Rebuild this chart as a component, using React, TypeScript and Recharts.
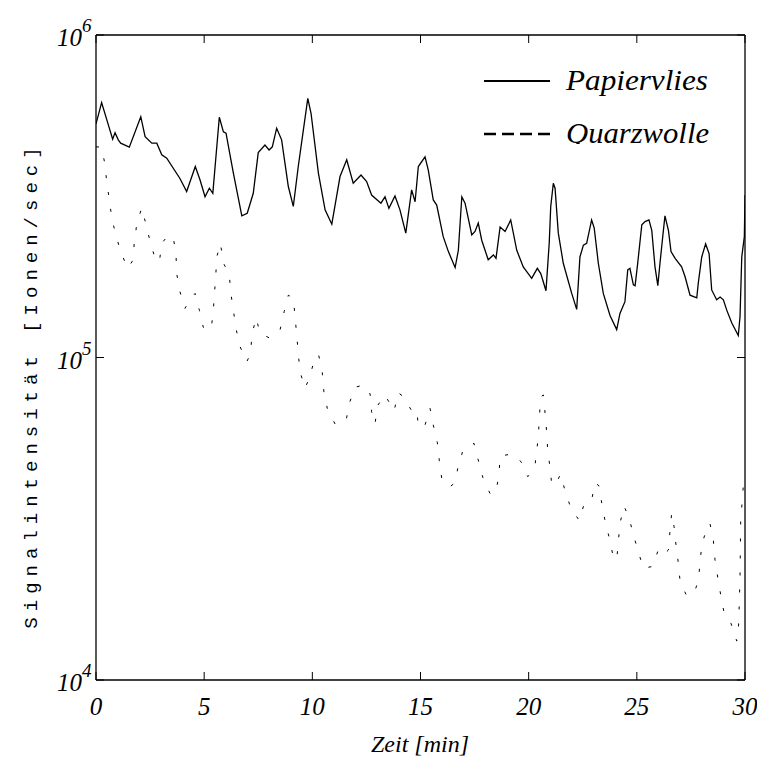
import { LineChart, Line, XAxis, YAxis } from 'recharts'

// Papiervlies (solid)
const papierT = [
  0, 0.26, 0.77, 0.88, 1.03, 1.14, 1.54, 2.07, 2.27, 2.58, 2.81, 3.04, 3.27, 3.88, 4.19, 4.59, 4.81, 5.04, 5.24, 5.4,
  5.7, 5.89, 6.01, 6.35, 6.74, 6.99, 7.27, 7.5, 7.81, 8.0, 8.15, 8.35, 8.58, 8.89, 9.12, 9.35, 9.79, 9.94, 10.28, 10.59,
  10.9, 11.28, 11.59, 11.89, 12.25, 12.51, 12.74, 13.17, 13.36, 13.54, 13.82, 14.05, 14.32, 14.59, 14.75, 14.9, 15.21,
  15.36, 15.59, 15.75, 16.05, 16.29, 16.6, 16.75, 16.91, 17.06, 17.37, 17.52, 17.67, 17.83, 18.13, 18.37, 18.49, 18.68,
  18.91, 19.17, 19.45, 19.75, 20.14, 20.4, 20.56, 20.8, 20.95, 21.02, 21.14, 21.22, 21.37, 21.6, 21.99, 22.22, 22.37,
  22.53, 22.68, 22.91, 23.03, 23.22, 23.45, 23.76, 24.07, 24.22, 24.45, 24.58, 24.68, 24.84, 24.92, 25.04, 25.23, 25.38,
  25.56, 25.69, 25.84, 25.97, 26.07, 26.18, 26.3, 26.46, 26.58, 26.77, 27.07, 27.23, 27.46, 27.77, 27.84, 28.0, 28.18,
  28.34, 28.46, 28.69, 28.85, 29.0, 29.16, 29.39, 29.69, 29.77, 29.85, 29.97, 30,
]
const papierV = [
  5.3e5, 6.17e5, 4.75e5, 4.98e5, 4.73e5, 4.62e5, 4.49e5, 5.58e5, 4.84e5, 4.62e5, 4.62e5, 4.25e5, 4.15e5, 3.59e5, 3.27e5,
  3.91e5, 3.55e5, 3.15e5, 3.35e5, 3.23e5, 5.56e5, 5.01e5, 4.96e5, 3.73e5, 2.75e5, 2.8e5, 3.23e5, 4.32e5, 4.56e5, 4.4e5,
  4.5e5, 5.14e5, 4.73e5, 3.39e5, 2.94e5, 3.91e5, 6.36e5, 5.72e5, 3.73e5, 2.87e5, 2.59e5, 3.64e5, 4.1e5, 3.47e5, 3.68e5,
  3.51e5, 3.19e5, 3.01e5, 3.15e5, 2.9e5, 3.17e5, 2.87e5, 2.43e5, 3.31e5, 3.04e5, 3.91e5, 4.19e5, 3.81e5, 3.08e5, 2.97e5,
  2.37e5, 2.13e5, 1.9e5, 2.15e5, 3.15e5, 3.01e5, 2.4e5, 2.46e5, 2.61e5, 2.31e5, 2.01e5, 2.08e5, 2.03e5, 2.54e5, 2.46e5,
  2.67e5, 2.15e5, 1.91e5, 1.76e5, 1.89e5, 1.82e5, 1.61e5, 2.26e5, 2.94e5, 3.47e5, 3.35e5, 2.43e5, 1.96e5, 1.58e5, 1.41e5,
  2.05e5, 2.23e5, 2.26e5, 2.67e5, 2.52e5, 1.96e5, 1.58e5, 1.35e5, 1.22e5, 1.37e5, 1.49e5, 1.87e5, 1.89e5, 1.68e5, 1.67e5,
  1.96e5, 2.58e5, 2.64e5, 2.67e5, 2.48e5, 1.91e5, 1.67e5, 1.96e5, 2.31e5, 2.75e5, 2.48e5, 2.13e5, 2.03e5, 1.91e5, 1.78e5,
  1.56e5, 1.53e5, 1.7e5, 2.05e5, 2.25e5, 2.1e5, 1.62e5, 1.51e5, 1.54e5, 1.51e5, 1.4e5, 1.28e5, 1.17e5, 1.34e5, 2.05e5,
  2.37e5, 3.19e5,
]

// Quarzwolle (dotted)
const quarzT = [
  0, 0.26, 0.42, 0.5, 0.62, 0.73, 0.93, 1.16, 1.47, 1.7, 1.77, 1.88, 2.11, 2.31, 2.5, 2.73, 2.93, 3.04, 3.31, 3.57, 3.7,
  3.73, 3.88, 4.11, 4.35, 4.58, 4.78, 4.96, 5.32, 5.42, 5.48, 5.54, 5.58, 5.76, 5.86, 6.16, 6.23, 6.35, 6.47, 6.66, 6.97,
  7.15, 7.2, 7.4, 7.58, 8.01, 8.51, 8.7, 8.89, 9.12, 9.2, 9.28, 9.35, 9.43, 9.66, 9.89, 10.09, 10.29, 10.46, 10.53, 10.69,
  11.05, 11.56, 11.71, 11.97, 12.36, 12.67, 12.74, 12.9, 13.0, 13.36, 13.78, 13.97, 14.21, 14.59, 14.83, 14.9, 15.21,
  15.44, 15.59, 15.78, 15.87, 15.98, 16.33, 16.6, 16.75, 16.98, 17.47, 17.67, 17.88, 18.21, 18.48, 18.63, 18.68, 19.22,
  19.65, 19.96, 20.29, 20.34, 20.45, 20.49, 20.56, 20.68, 20.76, 20.83, 20.88, 20.99, 21.07, 21.26, 21.48, 21.68, 21.94,
  22.34, 22.56, 22.91, 23.07, 23.25, 23.38, 23.53, 23.73, 23.91, 24.07, 24.22, 24.41, 24.65, 24.84, 25.07, 25.3, 25.73,
  25.99, 26.22, 26.46, 26.53, 26.61, 26.72, 26.81, 26.92, 27.0, 27.31, 27.69, 27.84, 27.92, 28.0, 28.23, 28.38, 28.54,
  28.61, 28.74, 28.88, 29.03, 29.35, 29.62, 29.69, 29.72, 29.77, 29.8, 29.92, 30,
]
const quarzV = [
  4.5e5, 4.49e5, 3.95e5, 3.47e5, 3.08e5, 2.7e5, 2.38e5, 2.11e5, 1.89e5, 2.0e5, 2.27e5, 2.58e5, 2.91e5, 2.59e5, 2.29e5,
  2.03e5, 1.98e5, 2.26e5, 2.38e5, 2.37e5, 2.07e5, 1.82e5, 1.6e5, 1.42e5, 1.51e5, 1.58e5, 1.4e5, 1.24e5, 1.22e5, 1.39e5,
  1.59e5, 1.81e5, 2.05e5, 2.26e5, 1.98e5, 1.81e5, 1.59e5, 1.4e5, 1.23e5, 1.08e5, 9.7e4, 1.03e5, 1.17e5, 1.33e5, 1.19e5,
  1.15e5, 1.22e5, 1.39e5, 1.56e5, 1.53e5, 1.34e5, 1.17e5, 1.03e5, 9.04e4, 8.03e4, 8.72e4, 9.87e4, 1.02e5, 8.97e4, 7.87e4,
  6.96e4, 6.22e4, 6.37e4, 7.21e4, 8.08e4, 8.22e4, 7.71e4, 6.79e4, 6.22e4, 7.07e4, 7.65e4, 6.83e4, 7.78e4, 7.56e4, 6.84e4,
  6.88e4, 6.08e4, 6.18e4, 6.96e4, 6.18e4, 5.44e4, 4.78e4, 4.22e4, 3.96e4, 4.09e4, 4.64e4, 5.19e4, 5.42e4, 4.81e4, 4.25e4,
  3.79e4, 3.8e4, 4.35e4, 4.95e4, 5.02e4, 4.75e4, 4.27e4, 4.59e4, 4.96e4, 5.68e4, 6.48e4, 7.56e4, 7.65e4, 6.71e4, 5.89e4,
  5.17e4, 4.53e4, 4.02e4, 4.07e4, 4.35e4, 3.86e4, 3.43e4, 3.12e4, 3.51e4, 3.61e4, 4.09e4, 4.0e4, 3.53e4, 3.12e4, 2.75e4,
  2.41e4, 2.36e4, 3.06e4, 3.46e4, 3.17e4, 2.82e4, 2.5e4, 2.22e4, 2.25e4, 2.53e4, 2.44e4, 2.53e4, 2.88e4, 3.29e4, 2.99e4,
  2.62e4, 2.3e4, 2.02e4, 1.82e4, 1.9e4, 2.02e4, 2.3e4, 2.62e4, 2.95e4, 3.06e4, 2.7e4, 2.37e4, 2.08e4, 1.83e4, 1.62e4,
  1.5e4, 1.32e4, 1.4e4, 1.59e4, 2.09e4, 3.1e4, 3.98e4, 4.1e4,
]

const xTicks = [0, 5, 10, 15, 20, 25, 30]
const yTicks = [1e4, 1e5, 1e6]
const seriesNames = ['Papiervlies', 'Quarzwolle']

const papierData = papierT.map((t, i) => ({ t, v: papierV[i] }))
const quarzData = quarzT.map((t, i) => ({ t, v: quarzV[i] }))

const serif = '"Liberation Serif", "Times New Roman", serif'
const mono = '"Liberation Mono", "Courier New", monospace'

const BottomTick = ({ x, y, payload }: any) => (
  <g>
    <line x1={x} x2={x} y1={y} y2={y - 8} stroke="#000" />
    <text x={x} y={y + 35} textAnchor="middle" fontFamily={serif} fontStyle="italic" fontSize={25} fill="#000">
      {payload.value}
    </text>
  </g>
)

const TopTick = ({ x, y }: any) => <line x1={x} x2={x} y1={y} y2={y + 8} stroke="#000" />

const LeftTick = ({ x, y, payload }: any) => (
  <g>
    <line x1={x} x2={x + 8} y1={y} y2={y} stroke="#000" />
    <text x={x - 39} y={y + 11} fontFamily={serif} fontStyle="italic" fontSize={25} fill="#000">
      10
      <tspan dy={-14} fontSize={19}>
        {Math.round(Math.log10(payload.value))}
      </tspan>
    </text>
  </g>
)

const RightTick = ({ x, y }: any) => <line x1={x} x2={x - 8} y1={y} y2={y} stroke="#000" />

const axisLine = { stroke: '#000', strokeWidth: 1.3 }

export default function App() {
  return (
    <div style={{ position: 'absolute', left: 0, top: 0, width: 757, height: 761, background: '#fff' }}>
      <LineChart width={757} height={761} margin={{ top: 34, right: 11, bottom: 80, left: 95 }}>
        <XAxis
          xAxisId="bottom"
          dataKey="t"
          type="number"
          domain={[0, 30]}
          ticks={xTicks}
          height={1}
          tickSize={0}
          tickMargin={0}
          tickLine={false}
          axisLine={axisLine}
          tick={<BottomTick />}
          interval={0}
          allowDataOverflow
        />
        <XAxis
          xAxisId="top"
          orientation="top"
          dataKey="t"
          type="number"
          domain={[0, 30]}
          ticks={xTicks}
          height={1}
          tickSize={0}
          tickMargin={0}
          tickLine={false}
          axisLine={axisLine}
          tick={<TopTick />}
          interval={0}
          allowDataOverflow
        />
        <YAxis
          yAxisId="left"
          type="number"
          scale="log"
          domain={[1e4, 1e6]}
          ticks={yTicks}
          width={1}
          tickSize={0}
          tickMargin={0}
          tickLine={false}
          axisLine={axisLine}
          tick={<LeftTick />}
          interval={0}
          allowDataOverflow
        />
        <YAxis
          yAxisId="right"
          orientation="right"
          type="number"
          scale="log"
          domain={[1e4, 1e6]}
          ticks={yTicks}
          width={1}
          tickSize={0}
          tickMargin={0}
          tickLine={false}
          axisLine={axisLine}
          tick={<RightTick />}
          interval={0}
          allowDataOverflow
        />
        <Line
          xAxisId="bottom"
          yAxisId="left"
          data={papierData}
          dataKey="v"
          name={seriesNames[0]}
          type="linear"
          stroke="#000"
          strokeWidth={1.3}
          dot={false}
          isAnimationActive={false}
        />
        <Line
          xAxisId="bottom"
          yAxisId="left"
          data={quarzData}
          dataKey="v"
          name={seriesNames[1]}
          type="linear"
          stroke="#000"
          strokeWidth={1}
          strokeDasharray="3 14"
          dot={false}
          isAnimationActive={false}
        />
      </LineChart>

      {/* axis titles and legend */}
      <svg width={757} height={761} style={{ position: 'absolute', left: 0, top: 0, pointerEvents: 'none' }}>
        <text x={420} y={752} textAnchor="middle" fontFamily={serif} fontStyle="italic" fontSize={24} fill="#000">
          Zeit [min]
        </text>
        <text
          x={37}
          y={385}
          transform="rotate(-90 37 385)"
          textAnchor="middle"
          fontFamily={mono}
          fontSize={19}
          letterSpacing={6}
          fill="#000"
        >
          Signalintensität [Ionen/sec]
        </text>
        <defs>
          <clipPath id="legendClip">
            <rect x={470} y={50} width={270} height={94} />
          </clipPath>
        </defs>
        <g clipPath="url(#legendClip)">
          <line x1={484} x2={550} y1={81} y2={81} stroke="#000" strokeWidth={2} />
          <text
            x={566}
            y={90}
            fontFamily={serif}
            fontStyle="italic"
            fontSize={29}
            textLength={142}
            lengthAdjust="spacingAndGlyphs"
            fill="#000"
          >
            {seriesNames[0]}
          </text>
          <line x1={484} x2={550} y1={134} y2={134} stroke="#000" strokeWidth={2.5} strokeDasharray="12 6" />
          <text
            x={566}
            y={143}
            fontFamily={serif}
            fontStyle="italic"
            fontSize={29}
            textLength={143}
            lengthAdjust="spacingAndGlyphs"
            fill="#000"
          >
            {seriesNames[1]}
          </text>
        </g>
      </svg>
    </div>
  )
}
